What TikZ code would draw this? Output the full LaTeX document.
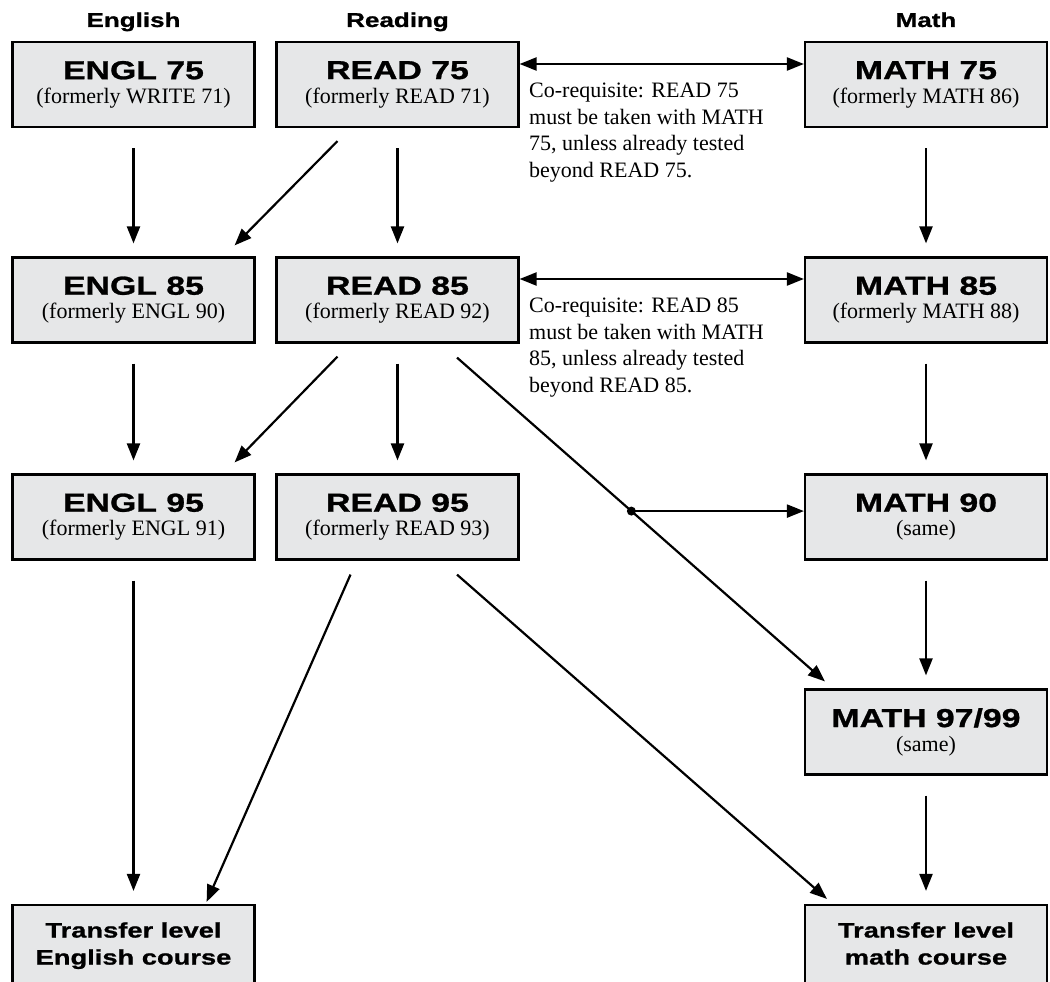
\documentclass[tikz,border=0pt]{standalone}
\usepackage{fontspec}
\setmainfont{Liberation Serif}
\newfontfamily\heavyfont{Liberation Sans}[FakeStretch=1.3,FakeBold=1]
\usetikzlibrary{arrows.meta,calc}
\definecolor{boxgray}{RGB}{230,231,232}

\tikzset{
  course/.style={draw, line width=2.2pt, fill=boxgray, minimum width=242pt,
    minimum height=85pt, inner sep=0pt, align=center,
    font=\fontsize{22}{24}\selectfont},
  flow/.style={line width=2.2pt, -{Triangle[length=17pt,width=13pt]}},
  coreq/.style={line width=2.2pt, {Triangle[length=17pt,width=13pt]}-{Triangle[length=17pt,width=13pt]}},
  colhead/.style={anchor=base, font=\heavyfont\bfseries\fontsize{20}{24}\selectfont},
  xfer/.style={course, font=\heavyfont\bfseries\fontsize{21}{27}\selectfont},
  note/.style={align=left, anchor=north west, inner sep=0pt,
    font=\fontsize{22}{26.5}\selectfont},
}
\newcommand{\ctitle}[1]{{\heavyfont\bfseries\fontsize{26}{26}\selectfont #1}}

\begin{document}
\begin{tikzpicture}[x=1pt,y=-1pt]
  \useasboundingbox (0,0) rectangle (1050,982);
  % column heads
  \node[colhead] (hengl) at (133.5,27) {English};
  \node[colhead] (hread) at (397.5,27) {Reading};
  \node[colhead] (hmath) at (926,27) {Math};
  % courses
  \node[course] (engl75) at (133.5,84.5) {\ctitle{ENGL 75}\\(formerly WRITE 71)};
  \node[course] (read75) at (397.5,84.5) {\ctitle{READ 75}\\(formerly READ 71)};
  \node[course] (math75) at (926,84.5) {\ctitle{MATH 75}\\(formerly MATH 86)};
  \node[course] (engl85) at (133.5,300) {\ctitle{ENGL 85}\\(formerly ENGL 90)};
  \node[course] (read85) at (397.5,300) {\ctitle{READ 85}\\(formerly READ 92)};
  \node[course] (math85) at (926,300) {\ctitle{MATH 85}\\(formerly MATH 88)};
  \node[course] (engl95) at (133.5,517) {\ctitle{ENGL 95}\\(formerly ENGL 91)};
  \node[course] (read95) at (397.5,517) {\ctitle{READ 95}\\(formerly READ 93)};
  \node[course] (math90) at (926,517) {\ctitle{MATH 90}\\(same)};
  \node[course] (math97) at (926,732) {\ctitle{MATH 97/99}\\(same)};
  \node[xfer] (xfereng) at (133.5,947.5) {Transfer level\\English course\strut};
  \node[xfer] (xfermath) at (926,947.5) {Transfer level\\math course\strut};
  % co-requisite notes
  \node[note] (note75) at (529,83) {Co-requisite: READ 75\\must be taken with MATH\\75, unless already tested\\beyond READ 75.};
  \node[note] (note85) at (529,298) {Co-requisite: READ 85\\must be taken with MATH\\85, unless already tested\\beyond READ 85.};
  \draw[coreq] ([yshift=20.5pt]read75.east) -- ([yshift=20.5pt]math75.west);
  \draw[coreq] ([yshift=21pt]read85.east) -- ([yshift=21pt]math85.west);
  % straight down
  \foreach \a/\b in {engl75/engl85, read75/read85, math75/math85,
                     engl85/engl95, read85/read95, math85/math90,
                     math90/math97, engl95/xfereng, math97/xfermath}
    \draw[flow] ([yshift=-20pt]\a.south) -- ([yshift=13pt]\b.north);
  % diagonals
  \draw[flow] ([xshift=-60pt,yshift=-13pt]read75.south) -- ([xshift=-21pt,yshift=11pt]engl85.north east);
  \draw[flow] ([xshift=-60pt,yshift=-13pt]read85.south) -- ([xshift=-21pt,yshift=11pt]engl95.north east);
  \draw[flow] ([xshift=59.5pt,yshift=-14pt]read85.south) -- coordinate[pos=0.474] (split)
    ([xshift=21pt,yshift=7pt]math97.north west);
  \fill (split) circle (4.5pt);
  \draw[flow] (split) -- (split -| math90.west);
  \draw[flow] ([xshift=-47pt,yshift=-14pt]read95.south) -- ([xshift=-49pt,yshift=2pt]xfereng.north east);
  \draw[flow] ([xshift=59.5pt,yshift=-14pt]read95.south) -- ([xshift=23pt,yshift=5pt]xfermath.north west);
\end{tikzpicture}
\end{document}
